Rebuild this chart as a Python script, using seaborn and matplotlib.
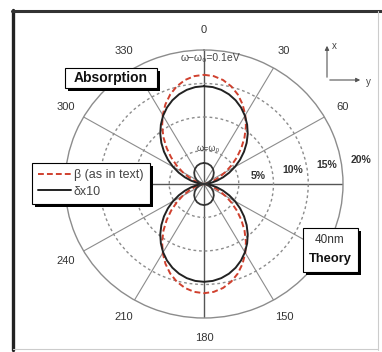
import numpy as np
import pandas as pd
import matplotlib
matplotlib.use("Agg")
import matplotlib.pyplot as plt
import matplotlib.patheffects as pe
from matplotlib.patches import Rectangle, FancyArrowPatch
from matplotlib.lines import Line2D
import seaborn as sns

# ---- data: one quadrant of each angular pattern (degrees from the x axis, % units)
quad_angles = [0, 5, 10, 15, 20, 25, 30, 35, 40, 45, 50, 55, 60, 65, 70, 75, 80, 85, 90]
beta_q = [16.3, 16.16, 15.76, 15.10, 14.22, 13.13, 11.88, 10.51, 9.07, 7.60,
          6.17, 4.80, 3.55, 2.45, 1.54, 0.83, 0.35, 0.08, 0.0]
delta10_q = [14.6, 14.52, 14.27, 13.86, 13.30, 12.60, 11.77, 10.82, 9.79, 8.68,
             7.52, 6.34, 5.16, 4.01, 2.92, 1.92, 1.06, 0.38, 0.0]
res_angles = [0, 10, 20, 30, 40, 50, 60, 70, 80, 90]
resonant_q = [3.15, 3.08, 2.90, 2.60, 2.20, 1.74, 1.24, 0.76, 0.32, 0.0]

theta_ticks = [0, 30, 60, 90, 120, 150, 180, 210, 240, 270, 300, 330]
theta_labels = ["0", "30", "60", "", "", "150", "180", "210", "240", "", "300", "330"]
r_ticks = [5, 10, 15, 20]
r_labels = ["5%", "10%", "15%", "20%"]
legend_labels = ["β (as in text)", "δx10"]


def full_turn(angles, values):
    """Unfold a quadrant into a closed pattern symmetric about both axes."""
    a = np.asarray(angles, float)
    v = np.asarray(values, float)
    th = np.concatenate([a, 180 - a[::-1][1:], 180 + a[1:], 360 - a[::-1][1:]])
    r = np.concatenate([v, v[::-1][1:], v[1:], v[::-1][1:]])
    return pd.DataFrame({"theta": np.deg2rad(th), "r": r})


beta_df = full_turn(quad_angles, beta_q)
delta_df = full_turn(quad_angles, delta10_q)
res_df = full_turn(res_angles, resonant_q)

sns.set_style("white")
plt.rcParams["font.family"] = ["Liberation Sans", "DejaVu Sans"]

W, H = 382, 352
fig = plt.figure(figsize=(W / 100, H / 100), dpi=100)
fig.patch.set_facecolor("white")


def fx(px):
    return px / W


def fy(py):
    return 1 - py / H


ax = fig.add_axes([fx(65), fy(318), 278 / W, 268 / H], projection="polar")
ax.set_aspect("auto")
ax.set_theta_zero_location("N")
ax.set_theta_direction(-1)
ax.set_ylim(0, 20)

ax.set_xticks(np.deg2rad(theta_ticks))
ax.set_xticklabels([])
ax.set_yticks(r_ticks[:-1])
ax.set_yticklabels([])
ax.xaxis.grid(True, color="#8c8c8c", lw=0.8, ls="-")
ax.yaxis.grid(True, color="#8c8c8c", lw=1.0, ls=(0, (2.0, 2.0)))
for i, gl in enumerate(ax.xaxis.get_gridlines()):
    if theta_ticks[i] % 90 == 0:
        gl.set_color("#555555")
        gl.set_linewidth(1.0)
ax.spines["polar"].set_color("#8c8c8c")
ax.spines["polar"].set_linewidth(1.0)

# angular and radial tick labels
for a, lab in zip(theta_ticks, theta_labels):
    if lab:
        ax.text(np.deg2rad(a), 23.0, lab, ha="center", va="center",
                fontsize=8, color="#333333")
for v, lab in zip(r_ticks, r_labels):
    ax.text(np.deg2rad(81), v + 2.9, lab, ha="center", va="center",
            fontsize=7.5, fontweight="bold", color="#333333")

# radiation patterns
sns.lineplot(data=beta_df, x="theta", y="r", sort=False, estimator=None, ax=ax,
             color="#d0402e", lw=1.4, ls=(0, (3.0, 1.6)), label=legend_labels[0])
sns.lineplot(data=delta_df, x="theta", y="r", sort=False, estimator=None, ax=ax,
             color="#222222", lw=1.4, label=legend_labels[1])
sns.lineplot(data=res_df, x="theta", y="r", sort=False, estimator=None, ax=ax,
             color="#333333", lw=1.3)
ax.set_xlabel("")
ax.set_ylabel("")

shadow = [pe.withSimplePatchShadow(offset=(2.2, -2.2), shadow_rgbFace="black", alpha=1.0)]

leg = ax.legend(loc="upper left", bbox_to_anchor=(fx(32), fy(163)),
                bbox_transform=fig.transFigure, borderaxespad=0, frameon=True,
                fancybox=False, edgecolor="black", framealpha=1, fontsize=9,
                handlelength=2.6, handletextpad=0.25, labelspacing=0.35,
                borderpad=0.5)
leg.get_frame().set_linewidth(0.8)
leg.get_frame().set_path_effects(shadow)
for t in leg.get_texts():
    t.set_color("#444444")

# curve annotations
fig.text(fx(210), fy(58), "ω−ω₀=0.1eV", ha="center", va="center",
         fontsize=7.5, color="#444444")
fig.text(fx(208), fy(148), "ω=ω₀", ha="center", va="center",
         fontsize=6.5, color="#444444")


def shadow_box(x0, y0, x1, y1):
    rect = Rectangle((fx(x0), fy(y1)), (x1 - x0) / W, (y1 - y0) / H,
                     transform=fig.transFigure, fc="white", ec="black",
                     lw=0.8, zorder=10)
    rect.set_path_effects(shadow)
    fig.add_artist(rect)


shadow_box(65, 68, 157, 88)
fig.text(fx(111), fy(78), "Absorption", ha="center", va="center",
         fontsize=10, fontweight="bold", color="#111111", zorder=11)

shadow_box(303, 228, 358, 272)
fig.text(fx(330), fy(240), "40nm", ha="center", va="center",
         fontsize=8.5, color="#333333", zorder=11)
fig.text(fx(330), fy(259), "Theory", ha="center", va="center",
         fontsize=9.3, fontweight="bold", color="#111111", zorder=11)

# coordinate indicator
for end in [(327, 43), (363, 80)]:
    fig.add_artist(FancyArrowPatch((fx(327), fy(80)), (fx(end[0]), fy(end[1])),
                                   transform=fig.transFigure, arrowstyle="-|>",
                                   mutation_scale=6, color="#555555", lw=0.8))
fig.text(fx(334), fy(46), "x", ha="center", va="center", fontsize=7, color="#444444")
fig.text(fx(368), fy(82), "y", ha="center", va="center", fontsize=7, color="#444444")

# outer frame
fig.add_artist(Line2D([fx(13), fx(13)], [fy(10), fy(350)], transform=fig.transFigure,
                      color="#222222", lw=2.4))
fig.add_artist(Line2D([fx(12), fx(381)], [fy(11), fy(11)], transform=fig.transFigure,
                      color="#333333", lw=2.2))
fig.add_artist(Line2D([fx(378), fx(378)], [fy(11), fy(350)], transform=fig.transFigure,
                      color="#cccccc", lw=0.8))
fig.add_artist(Line2D([fx(13), fx(378)], [fy(349), fy(349)], transform=fig.transFigure,
                      color="#cccccc", lw=0.8))

fig.savefig("out.png", dpi=100, facecolor="white")
